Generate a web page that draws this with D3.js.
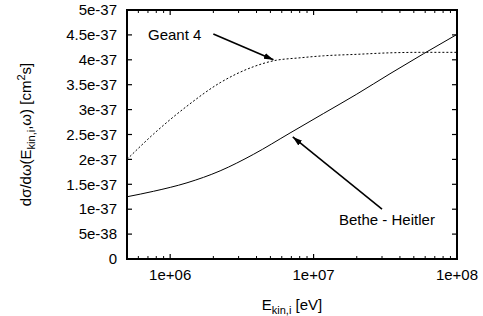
<!DOCTYPE html>
<html>
<head>
<meta charset="utf-8">
<script src="https://cdn.jsdelivr.net/npm/d3@7"></script>
<style>
  body { margin: 0; background: #fff; overflow: hidden; }
  svg { display: block; }
  text { font-family: "Liberation Sans", Arial, sans-serif; fill: #000; }
</style>
</head>
<body>
<div id="chart"></div>
<script>
// data
const geantEnergies = [5e5, 7.66e5, 1.31e6, 2.23e6, 3.8e6, 5.25e6, 8.05e6, 1.17e7, 2.0e7, 3.41e7, 5.83e7, 1e8];
const geant4 = [2.0e-37, 2.51e-37, 3.07e-37, 3.54e-37, 3.86e-37, 3.98e-37, 4.04e-37, 4.08e-37, 4.11e-37, 4.14e-37, 4.15e-37, 4.15e-37];
const betheEnergies = [5e5, 7.66e5, 1.31e6, 2.23e6, 3.8e6, 6.85e6, 1.17e7, 2.0e7, 3.41e7, 5.83e7, 1e8];
const betheHeitler = [1.25e-37, 1.36e-37, 1.53e-37, 1.77e-37, 2.1e-37, 2.53e-37, 2.92e-37, 3.31e-37, 3.72e-37, 4.12e-37, 4.51e-37];

const yTicks = [0, 0.5e-37, 1e-37, 1.5e-37, 2e-37, 2.5e-37, 3e-37, 3.5e-37, 4e-37, 4.5e-37, 5e-37];
const yTickLabels = ["0", "5e-38", "1e-37", "1.5e-37", "2e-37", "2.5e-37", "3e-37", "3.5e-37", "4e-37", "4.5e-37", "5e-37"];
const xTicks = [1e6, 1e7, 1e8];
const xTickLabels = ["1e+06", "1e+07", "1e+08"];

const width = 483, height = 316;
const margin = { top: 10, right: 26, bottom: 57, left: 127 };
const innerWidth = width - margin.left - margin.right;
const innerHeight = height - margin.top - margin.bottom;

const svg = d3.select("#chart").append("svg")
    .attr("width", width)
    .attr("height", height);

const defs = svg.append("defs");
defs.append("marker")
    .attr("id", "head")
    .attr("viewBox", "0 0 10 10")
    .attr("refX", 10).attr("refY", 5)
    .attr("markerWidth", 6).attr("markerHeight", 6)
    .attr("markerUnits", "strokeWidth")
    .attr("orient", "auto")
    .append("path")
    .attr("d", "M0,1.8 L10,5 L0,8.2 Z")
    .attr("fill", "#000");

const g = svg.append("g").attr("transform", `translate(${margin.left},${margin.top})`);

const x = d3.scaleLog().domain([5e5, 1e8]).range([0, innerWidth]);
const y = d3.scaleLinear().domain([0, 5e-37]).range([innerHeight, 0]);

// minor ticks on the log axis
const minor = [];
[1e5, 1e6, 1e7].forEach(dec => {
    for (let k = 2; k <= 9; k++) {
        const v = dec * k;
        if (v >= 5e5 && v <= 1e8) minor.push(v);
    }
});

// bottom + top ticks (inward)
g.selectAll(".xmaj").data(xTicks).join("line")
    .attr("x1", d => x(d)).attr("x2", d => x(d))
    .attr("y1", innerHeight).attr("y2", innerHeight - 5)
    .attr("stroke", "#000").attr("stroke-width", 1.2);
g.selectAll(".xmajt").data(xTicks).join("line")
    .attr("x1", d => x(d)).attr("x2", d => x(d))
    .attr("y1", 0).attr("y2", 5)
    .attr("stroke", "#000").attr("stroke-width", 1.2);
g.selectAll(".xmin").data(minor).join("line")
    .attr("x1", d => x(d)).attr("x2", d => x(d))
    .attr("y1", innerHeight).attr("y2", innerHeight - 3)
    .attr("stroke", "#000").attr("stroke-width", 1);
g.selectAll(".xmint").data(minor).join("line")
    .attr("x1", d => x(d)).attr("x2", d => x(d))
    .attr("y1", 0).attr("y2", 3)
    .attr("stroke", "#000").attr("stroke-width", 1);

// left + right y ticks
g.selectAll(".yl").data(yTicks).join("line")
    .attr("x1", 0).attr("x2", 5)
    .attr("y1", d => y(d)).attr("y2", d => y(d))
    .attr("stroke", "#000").attr("stroke-width", 1.2);
g.selectAll(".yr").data(yTicks).join("line")
    .attr("x1", innerWidth).attr("x2", innerWidth - 5)
    .attr("y1", d => y(d)).attr("y2", d => y(d))
    .attr("stroke", "#000").attr("stroke-width", 1.2);

// tick labels
g.selectAll(".ylab").data(yTicks).join("text")
    .attr("x", -10)
    .attr("y", d => y(d))
    .attr("dy", "0.35em")
    .attr("text-anchor", "end")
    .attr("font-size", 15)
    .text((d, i) => yTickLabels[i]);

g.selectAll(".xlab").data(xTicks).join("text")
    .attr("x", d => x(d))
    .attr("y", innerHeight + 21)
    .attr("text-anchor", "middle")
    .attr("font-size", 15)
    .text((d, i) => xTickLabels[i]);

// curves
const lineFor = xs => d3.line()
    .x((d, i) => x(xs[i]))
    .y(d => y(d))
    .curve(d3.curveMonotoneX);

g.append("path")
    .attr("d", lineFor(geantEnergies)(geant4))
    .attr("fill", "none")
    .attr("stroke", "#000")
    .attr("stroke-width", 1)
    .attr("stroke-dasharray", "2,2");

g.append("path")
    .attr("d", lineFor(betheEnergies)(betheHeitler))
    .attr("fill", "none")
    .attr("stroke", "#000")
    .attr("stroke-width", 1);

// frame
g.append("rect")
    .attr("width", innerWidth).attr("height", innerHeight)
    .attr("fill", "none")
    .attr("stroke", "#000")
    .attr("stroke-width", 2);

// annotations
g.append("text")
    .attr("x", 148 - margin.left).attr("y", 40 - margin.top)
    .attr("font-size", 15)
    .text("Geant 4");
g.append("line")
    .attr("x1", x(2.0e6)).attr("y1", y(4.52e-37))
    .attr("x2", x(5.25e6)).attr("y2", y(3.98e-37) - 1)
    .attr("stroke", "#000").attr("stroke-width", 1.6)
    .attr("marker-end", "url(#head)");

g.append("text")
    .attr("x", 339 - margin.left).attr("y", 225 - margin.top)
    .attr("font-size", 15)
    .text("Bethe - Heitler");
g.append("line")
    .attr("x1", x(3.0e7)).attr("y1", y(1e-37))
    .attr("x2", x(7.16e6)).attr("y2", y(2.45e-37))
    .attr("stroke", "#000").attr("stroke-width", 1.6)
    .attr("marker-end", "url(#head)");

// axis titles
const xt = svg.append("text")
    .attr("x", margin.left + innerWidth / 2)
    .attr("y", 310)
    .attr("text-anchor", "middle")
    .attr("font-size", 15);
xt.append("tspan").text("E");
xt.append("tspan").attr("font-size", 11).attr("baseline-shift", -4).text("kin,i");
xt.append("tspan").text(" [eV]");

const yt = svg.append("text")
    .attr("transform", `translate(31,${margin.top + innerHeight / 2}) rotate(-90)`)
    .attr("text-anchor", "middle")
    .attr("font-size", 15);
yt.append("tspan").text("dσ/dω(E");
yt.append("tspan").attr("font-size", 11).attr("baseline-shift", -4).text("kin,i");
yt.append("tspan").text(",ω) [cm");
yt.append("tspan").attr("font-size", 11).attr("baseline-shift", 6).text("2");
yt.append("tspan").text("s]");
</script>
</body>
</html>
